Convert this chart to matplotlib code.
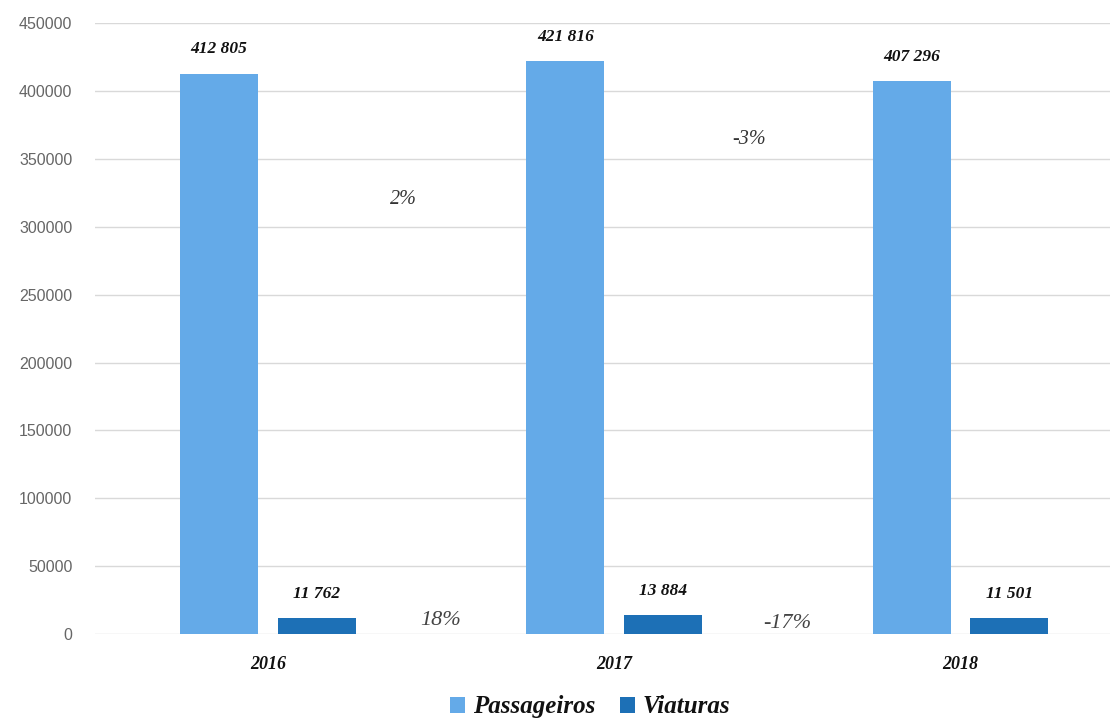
import matplotlib
matplotlib.use("Agg")
import matplotlib.pyplot as plt
import numpy as np

years = ["2016", "2017", "2018"]
passageiros = [412805, 421816, 407296]
viaturas = [11762, 13884, 11501]
pass_labels = ["412 805", "421 816", "407 296"]
viat_labels = ["11 762", "13 884", "11 501"]
pass_changes = ["2%", "-3%"]
pass_change_y = [320000, 364000]
viat_changes = ["18%", "-17%"]
viat_change_y = [10300, 8000]
yticks = [0, 50000, 100000, 150000, 200000, 250000, 300000, 350000, 400000, 450000]

c_pass = "#64aae8"
c_viat = "#1d70b6"
serif = ["Liberation Serif", "DejaVu Serif"]

fig = plt.figure(figsize=(11.14, 7.25), dpi=100)
ax = fig.add_axes([0.085, 0.1255, 0.911, 0.8425])

x = np.arange(len(years))
w = 0.225
off = 0.141
ax.bar(x - off, passageiros, w, color=c_pass, label="Passageiros", zorder=3)
ax.bar(x + off, viaturas, w, color=c_viat, label="Viaturas", zorder=3)

for xi, v, t in zip(x, passageiros, pass_labels):
    ax.text(xi - off, v + 12000, t, ha="center", va="bottom", family=serif,
            style="italic", weight="bold", fontsize=12.5, color="#111111")
for xi, v, t in zip(x, viaturas, viat_labels):
    ax.text(xi + off, v + 12000, t, ha="center", va="bottom", family=serif,
            style="italic", weight="bold", fontsize=12.5, color="#111111")

for i, (t, yv) in enumerate(zip(pass_changes, pass_change_y)):
    ax.text(x[i] + 0.39, yv, t, ha="center", va="center", family=serif,
            style="italic", fontsize=14.5, color="#333333")
for i, (t, yv) in enumerate(zip(viat_changes, viat_change_y)):
    ax.text(x[i] + 0.50, yv, t, ha="center", va="center", family=serif,
            style="italic", fontsize=16, color="#444444")

ax.set_xlim(-0.5, 2.43)
ax.set_ylim(0, 450000)
ax.set_yticks(yticks)
ax.set_yticklabels([str(v) for v in yticks], fontsize=11.5, color="#666666",
                   family=["Liberation Sans", "DejaVu Sans"])
ax.set_xticks(x)
ax.set_xticklabels(years, family=serif, style="italic", weight="bold",
                   fontsize=13, color="#111111")
ax.tick_params(axis="both", length=0)
ax.tick_params(axis="x", pad=16)
ax.tick_params(axis="y", pad=16)
ax.grid(axis="y", color="#d9d9d9", linewidth=1, zorder=0)
for s in ax.spines.values():
    s.set_visible(False)

leg = fig.legend(loc="center", bbox_to_anchor=(0.53, 0.025), ncol=2, frameon=False,
                 prop={"family": "Liberation Serif", "style": "italic", "weight": "bold", "size": 18},
                 handlelength=0.6, handleheight=0.6, handletextpad=0.3, columnspacing=1.0)
for t in leg.get_texts():
    t.set_color("#111111")

fig.savefig("out.png", dpi=100)
